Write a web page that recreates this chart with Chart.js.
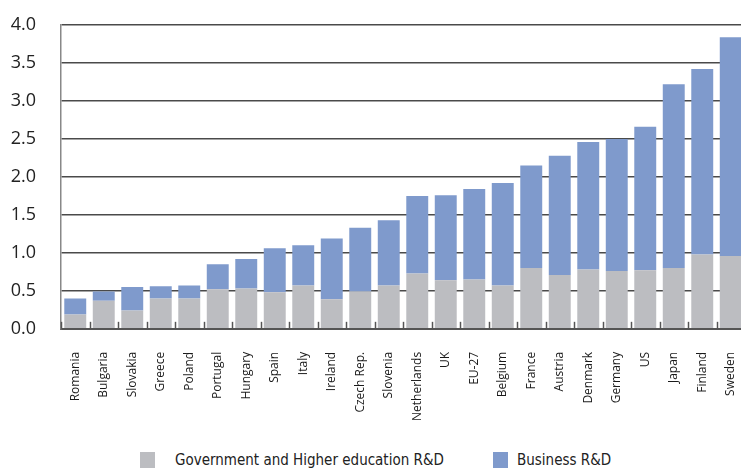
<!DOCTYPE html>
<html>
<head>
<meta charset="utf-8">
<script src="https://cdn.jsdelivr.net/npm/chart.js@4"></script>
<style>
  html, body { margin: 0; padding: 0; background: #fff; overflow: hidden; }
  #page { position: relative; width: 741px; height: 468px; overflow: hidden; }
  #wrap { position: absolute; left: 0; top: 0; width: 745px; height: 436px; }
  #legend { position: absolute; left: 0; top: 451px; width: 741px; height: 20px;
            font-family: 'DejaVu Sans Condensed', 'DejaVu Sans', sans-serif; font-size: 15px; color: #222; }
  #legend .box { position: absolute; top: 1px; width: 15px; height: 16px; }
  #legend .txt { position: absolute; top: 0; white-space: nowrap; line-height: 18px; }
</style>
</head>
<body>
<div id="page">
  <div id="wrap"><canvas id="chart"></canvas></div>
  <div id="legend"></div>
</div>
<script>
// R&D expenditure as % of GDP, split by sector
const countries = ['Romania', 'Bulgaria', 'Slovakia', 'Greece', 'Poland', 'Portugal', 'Hungary', 'Spain',
    'Italy', 'Ireland', 'Czech Rep.', 'Slovenia', 'Netherlands', 'UK', 'EU-27', 'Belgium', 'France',
    'Austria', 'Denmark', 'Germany', 'US', 'Japan', 'Finland', 'Sweden'];
const govHigherEd = [0.19, 0.37, 0.24, 0.40, 0.40, 0.52, 0.53, 0.48, 0.57, 0.39, 0.49, 0.57, 0.73, 0.64,
    0.65, 0.57, 0.80, 0.71, 0.78, 0.76, 0.77, 0.80, 0.98, 0.96];
const business = [0.21, 0.12, 0.31, 0.16, 0.17, 0.33, 0.39, 0.58, 0.53, 0.80, 0.84, 0.86, 1.02, 1.12,
    1.19, 1.35, 1.35, 1.57, 1.68, 1.74, 1.89, 2.42, 2.44, 2.88];
const yTicks = [0, 0.5, 1, 1.5, 2, 2.5, 3, 3.5, 4];

const GREY = '#bcbdc1';
const BLUE = '#7f9acc';

// short tick marks pointing up into the plot, between the bars
const innerTicks = {
    id: 'innerTicks',
    afterDatasetsDraw(chart) {
        const x = chart.scales.x;
        const ctx = chart.ctx;
        const bottom = chart.chartArea.bottom;
        ctx.save();
        ctx.strokeStyle = '#555';
        ctx.lineWidth = 1.5;
        for (let i = 0; i <= countries.length; i++) {
            const px = Math.round(x.getPixelForValue(i - 0.5)) + 0.5;
            ctx.beginPath();
            ctx.moveTo(px, bottom);
            ctx.lineTo(px, bottom - 7);
            ctx.stroke();
        }
        ctx.restore();
    }
};

const chart = new Chart(document.getElementById('chart'), {
    type: 'bar',
    data: {
        labels: countries,
        datasets: [{
            label: 'Government and Higher education R&D',
            data: govHigherEd,
            backgroundColor: GREY,
            borderWidth: 0
        }, {
            label: 'Business R&D',
            data: business,
            backgroundColor: BLUE,
            borderWidth: 0
        }]
    },
    options: {
        responsive: true,
        maintainAspectRatio: false,
        animation: false,
        devicePixelRatio: 1,
        datasets: {
            bar: { barPercentage: 0.77, categoryPercentage: 1 }
        },
        layout: {
            padding: { top: 25, left: 10, right: 0, bottom: 0 }
        },
        plugins: {
            legend: { display: false },
            tooltip: { enabled: false }
        },
        scales: {
            x: {
                stacked: true,
                afterFit: function(scale) {
                    scale.paddingLeft = 0;
                    scale.paddingRight = 0;
                },
                grid: { display: false },
                border: { color: '#555', width: 2 },
                ticks: {
                    color: '#1a1a1a',
                    minRotation: 90,
                    maxRotation: 90,
                    padding: 15,
                    autoSkip: false,
                    font: { family: 'Open Sans', size: 12 }
                }
            },
            y: {
                stacked: true,
                min: 0,
                max: 4,
                afterBuildTicks: function(scale) {
                    scale.ticks = yTicks.map(v => ({ value: v }));
                },
                afterFit: function(scale) {
                    scale.width = 51;
                    scale.paddingTop = 0;
                    scale.paddingBottom = 0;
                },
                grid: { color: '#4a4a4a', lineWidth: 1.5, drawTicks: false },
                border: { color: '#888', width: 1.5 },
                ticks: {
                    color: '#222',
                    padding: 25,
                    font: { family: 'Open Sans', size: 18 },
                    callback: function(value) {
                        return value.toFixed(1);
                    }
                }
            }
        }
    },
    plugins: [innerTicks]
});

// legend built from the chart's own datasets
const legendEl = document.getElementById('legend');
const legendPos = [[140, 175], [493, 517]];
chart.data.datasets.forEach((ds, i) => {
    const box = document.createElement('div');
    box.className = 'box';
    box.style.left = legendPos[i][0] + 'px';
    box.style.background = ds.backgroundColor;
    const txt = document.createElement('div');
    txt.className = 'txt';
    txt.style.left = legendPos[i][1] + 'px';
    txt.textContent = ds.label;
    legendEl.appendChild(box);
    legendEl.appendChild(txt);
});
</script>
</body>
</html>
